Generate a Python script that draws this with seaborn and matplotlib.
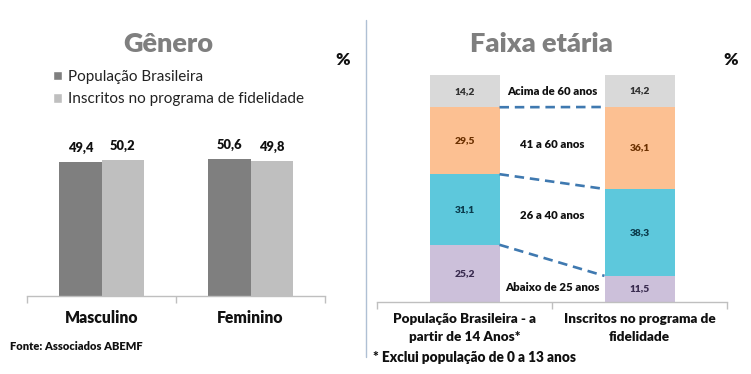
import matplotlib
matplotlib.use("Agg")
import matplotlib.pyplot as plt
import seaborn as sns
import pandas as pd
import numpy as np
from matplotlib.patches import Patch

sns.set_theme(style="white")
plt.rcParams['font.family'] = ['Lato', 'DejaVu Sans']

# ---------------- data ----------------
gender_categories = ["Masculino", "Feminino"]
gender_groups = ["População Brasileira", "Inscritos no programa de fidelidade"]
pop_gender = [49.4, 50.6]
insc_gender = [50.2, 49.8]

age_groups = ["População Brasileira - a\npartir de 14 Anos*", "Inscritos no programa de\nfidelidade"]
age_bands = ["Abaixo de 25 anos", "26 a 40 anos", "41 a 60 anos", "Acima de 60 anos"]
pop_age = [25.2, 31.1, 29.5, 14.2]
insc_age = [11.5, 38.3, 36.1, 14.2]

# ---------------- style ----------------
dark_grey = "#7F7F7F"
light_grey = "#BFBFBF"
band_colors = ["#CCC0DA", "#5DC8DC", "#FCC092", "#D9D9D9"]
band_text_colors = ["#3A2C50", "#0B3B4C", "#6B3000", "#333333"]
spine_color = "#BFBFBF"
BOLD = "heavy"

fig = plt.figure(figsize=(7.51, 3.74), dpi=100)
W, H = 751, 374

def fbox(x0, y0, x1, y1):
    return [x0 / W, 1 - y1 / H, (x1 - x0) / W, (y1 - y0) / H]

def fmt(v):
    return f"{v:.1f}".replace(".", ",")

def style_axis(ax):
    for s in ["left", "right", "top"]:
        ax.spines[s].set_visible(False)
    ax.spines["bottom"].set_color(spine_color)
    ax.spines["bottom"].set_linewidth(1.0)
    ax.set_yticks([])
    ax.set_ylabel("")
    ax.set_xlabel("")
    ax.set_xlim(-0.5, 1.5)
    ax.set_xticks([-0.5, 0.5, 1.5], minor=True)
    ax.tick_params(axis="x", which="minor", length=5, color=spine_color, width=1, direction="out", bottom=True)
    ax.tick_params(axis="x", which="major", length=0, bottom=False)

# ---------------- left panel: Gênero ----------------
axL = fig.add_axes(fbox(27, 147, 325, 296))
df_g = pd.DataFrame({
    "cat": gender_categories * 2,
    "grp": [gender_groups[0]] * 2 + [gender_groups[1]] * 2,
    "val": pop_gender + insc_gender,
})
sns.barplot(data=df_g, x="cat", y="val", hue="grp", palette=[dark_grey, light_grey],
            width=0.57, saturation=1, ax=axL, legend=False, errorbar=None, linewidth=0)
axL.set_ylim(0, 55)
style_axis(axL)
for cont in axL.containers:
    axL.bar_label(cont, labels=[fmt(b.get_height()) for b in cont], padding=6,
                  fontsize=9.3, fontweight=BOLD, color="#111111")
axL.set_xticks(range(len(gender_categories)))
axL.set_xticklabels(gender_categories, fontsize=11.3, fontweight=BOLD, color="#111111")
axL.tick_params(axis="x", which="major", pad=10)

fig.text(168 / W, 1 - 44 / H, "Gênero", ha="center", va="center", fontsize=19.5,
         fontweight=BOLD, color="#7F7F7F")
fig.text(343 / W, 1 - 60 / H, "%", ha="center", va="center", fontsize=12.5,
         fontweight=BOLD, color="#111111")
handles = [Patch(facecolor=dark_grey, label=gender_groups[0]),
           Patch(facecolor=light_grey, label=gender_groups[1])]
fig.legend(handles=handles, loc="upper left", bbox_to_anchor=(53 / W, 1 - 70 / H),
           frameon=False, fontsize=11, handlelength=0.6, handleheight=0.6,
           handletextpad=0.4, labelspacing=0.55, borderaxespad=0, borderpad=0,
           labelcolor="#222222")
fig.text(10 / W, 1 - 346 / H, "Fonte: Associados ABEMF", ha="left", va="center",
         fontsize=8, fontweight=BOLD, color="#111111")

# separator
fig.add_artist(plt.Line2D([366 / W, 366 / W], [1 - 20 / H, 1 - 357 / H],
                          color="#AFC0D4", lw=1.0))

# ---------------- right panel: Faixa etária ----------------
axR = fig.add_axes(fbox(377, 75, 727, 302))
pop_cum = np.cumsum(pop_age)
insc_cum = np.cumsum(insc_age)
for i in reversed(range(len(age_bands))):
    df_l = pd.DataFrame({"grp": age_groups, "val": [pop_cum[i], insc_cum[i]]})
    sns.barplot(data=df_l, x="grp", y="val", color=band_colors[i], width=0.4,
                saturation=1, ax=axR, errorbar=None, linewidth=0)
axR.set_ylim(0, 100)
style_axis(axR)
axR.set_xticks(range(len(age_groups)))
axR.set_xticklabels(age_groups, fontsize=9.7, fontweight=BOLD, color="#111111",
                    linespacing=1.6)
axR.tick_params(axis="x", which="major", pad=8)

# value labels in segments
for j, (vals, cum) in enumerate([(pop_age, pop_cum), (insc_age, insc_cum)]):
    for i, v in enumerate(vals):
        axR.text(j, cum[i] - v / 2, fmt(v), ha="center", va="center", fontsize=7.4,
                 fontweight=BOLD, color=band_text_colors[i])

# dashed connectors
for i in range(len(age_bands) - 1):
    axR.plot([0.2, 0.8], [pop_cum[i], insc_cum[i]], color="#3F79B0", lw=1.9,
             dashes=(3.6, 2.2), solid_capstyle="butt", dash_capstyle="butt")

# band names between bars
band_label_y = [6.6, 38.3, 69.3, 92.6]
for name, yv in zip(age_bands, band_label_y):
    axR.text(0.5, yv, name, ha="center", va="center", fontsize=8.2,
             fontweight=BOLD, color="#111111")

fig.text(541 / W, 1 - 44 / H, "Faixa etária", ha="center", va="center", fontsize=19.5,
         fontweight=BOLD, color="#7F7F7F")
fig.text(731 / W, 1 - 60 / H, "%", ha="center", va="center", fontsize=12.5,
         fontweight=BOLD, color="#111111")
fig.text(373 / W, 1 - 358 / H, "* Exclui população de 0 a 13 anos", ha="left",
         va="center", fontsize=9.8, fontweight=BOLD, color="#111111")

fig.savefig("out.png", dpi=100)
